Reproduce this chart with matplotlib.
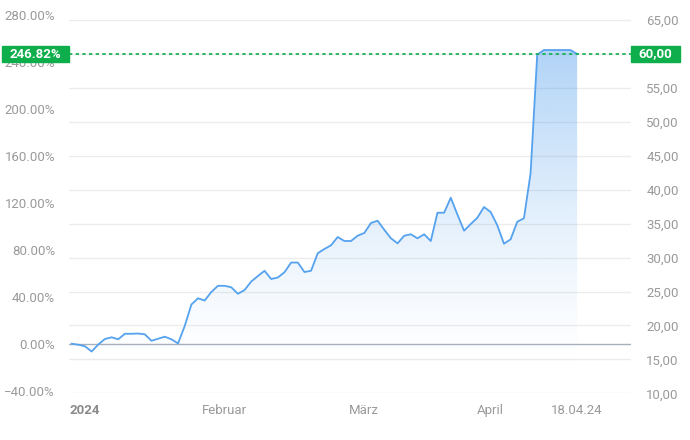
import numpy as np
import matplotlib
matplotlib.use("Agg")
import matplotlib.pyplot as plt
from matplotlib.patches import Rectangle
from matplotlib.ticker import FuncFormatter

plt.rcParams['font.family'] = ['Roboto', 'DejaVu Sans']

# Kurs (EUR) pro Handelstag, 2024 bis 18.04.24
prices = [17.30, 17.16, 16.93, 16.16, 17.19, 18.00, 18.25, 17.96, 18.77, 18.77,
          18.81, 18.69, 17.74, 18.04, 18.34, 17.96, 17.35, 19.92, 23.08, 24.00,
          23.67, 24.93, 25.84, 25.84, 25.62, 24.66, 25.22, 26.47, 27.28, 28.05,
          26.84, 27.06, 27.84, 29.27, 29.27, 27.87, 28.06, 30.64, 31.26, 31.81,
          33.03, 32.44, 32.44, 33.22, 33.62, 35.09, 35.43, 34.10, 32.84, 32.10,
          33.22, 33.43, 32.84, 33.43, 32.44, 36.61, 36.61, 38.82, 36.34, 33.96,
          34.94, 35.87, 37.45, 36.71, 34.75, 32.04, 32.69, 35.28, 35.78, 42.41,
          59.90, 60.58, 60.58, 60.58, 60.58, 60.58, 60.00]
base_price = 17.30
last_price = 60.00
last_pct = 246.82

x_label_pos = [-0.4, 23, 44, 63, 76]
x_labels = ["2024", "Februar", "März", "April", "18.04.24"]
price_ticks = [10, 15, 20, 25, 30, 35, 40, 45, 50, 55, 60, 65]
pct_ticks = [-40, 0, 40, 80, 120, 160, 200, 240, 280]

green = "#0fae4c"
blue = "#55a2ee"
grey_txt = "#9a9a9a"

fig = plt.figure(figsize=(6.9, 4.4), dpi=100)
ax = fig.add_axes([69 / 690, 46.7 / 440, (631 - 69) / 690, 383.3 / 440])

x = np.arange(len(prices))
y = np.array(prices)
ax.set_xlim(-0.4, 84.1)
ax.set_ylim(10, 66.48)

# Verlauf unter der Linie
fill_bottom = 13.0
poly = ax.fill_between(x, y, fill_bottom, color="none", lw=0)
grad = np.zeros((256, 1, 4))
grad[:, 0, :3] = matplotlib.colors.to_rgb("#4a9bec")
grad[:, 0, 3] = np.linspace(0.0, 0.55, 256) ** 1.4
img = ax.imshow(grad, extent=[x[0], x[-1], fill_bottom, max(prices)], origin="lower",
                aspect="auto", zorder=1)
img.set_clip_path(poly.get_paths()[0], transform=ax.transData)

ax.plot(x, y, color=blue, lw=1.3, zorder=3)

for p in price_ticks:
    ax.axhline(p, color="#ececec", lw=1, zorder=0)
ax.axhline(base_price, color="#a9b0bd", lw=1, zorder=2)
ax.axhline(last_price, color=green, lw=1.2, ls=(0, (2, 2)), zorder=4)

for s in ax.spines.values():
    s.set_visible(False)

# rechts: Kurs (60,00 liegt unter der gruenen Box)
ax.yaxis.tick_right()
ax.set_yticks(price_ticks)
ax.yaxis.set_major_formatter(FuncFormatter(
    lambda v, _: "" if abs(v - last_price) < 1e-6 else f"{v:.2f}".replace(".", ",")))
ax.tick_params(axis="y", length=0, pad=11, labelsize=9.5, labelcolor=grey_txt)

# links: Prozent
sec = ax.secondary_yaxis("left", functions=(lambda p: (p / base_price - 1) * 100,
                                            lambda q: (q / 100 + 1) * base_price))
sec.set_yticks(pct_ticks)
sec.yaxis.set_major_formatter(FuncFormatter(lambda v, _: f"{v:.2f}%".replace("-", "\u2212")))
sec.tick_params(axis="y", length=0, pad=10, labelsize=9.5, labelcolor=grey_txt)
for s in sec.spines.values():
    s.set_visible(False)

ax.set_xticks(x_label_pos)
ax.set_xticklabels(x_labels)
ax.tick_params(axis="x", length=0, pad=8, labelsize=9.5, labelcolor=grey_txt)
first = ax.get_xticklabels()[0]
first.set_fontweight("bold")
first.set_ha("left")
first.set_color("#8a8a8a")

# gruene Wert-Boxen
hb = 16 / 440
fig.patches.append(Rectangle((2 / 690, 1 - 62 / 440), 67 / 690, hb, transform=fig.transFigure,
                             color=green, zorder=5))
fig.text(35.5 / 690, 1 - 54 / 440, f"{last_pct:.2f}%", color="white", fontsize=9.5,
         fontweight="bold", ha="center", va="center", zorder=6)
fig.patches.append(Rectangle((631 / 690, 1 - 62 / 440), 49 / 690, hb, transform=fig.transFigure,
                             color=green, zorder=5))
fig.text(655.5 / 690, 1 - 54 / 440, f"{last_price:.2f}".replace(".", ","), color="white",
         fontsize=9.5, fontweight="bold", ha="center", va="center", zorder=6)

fig.savefig("out.png", dpi=100)
